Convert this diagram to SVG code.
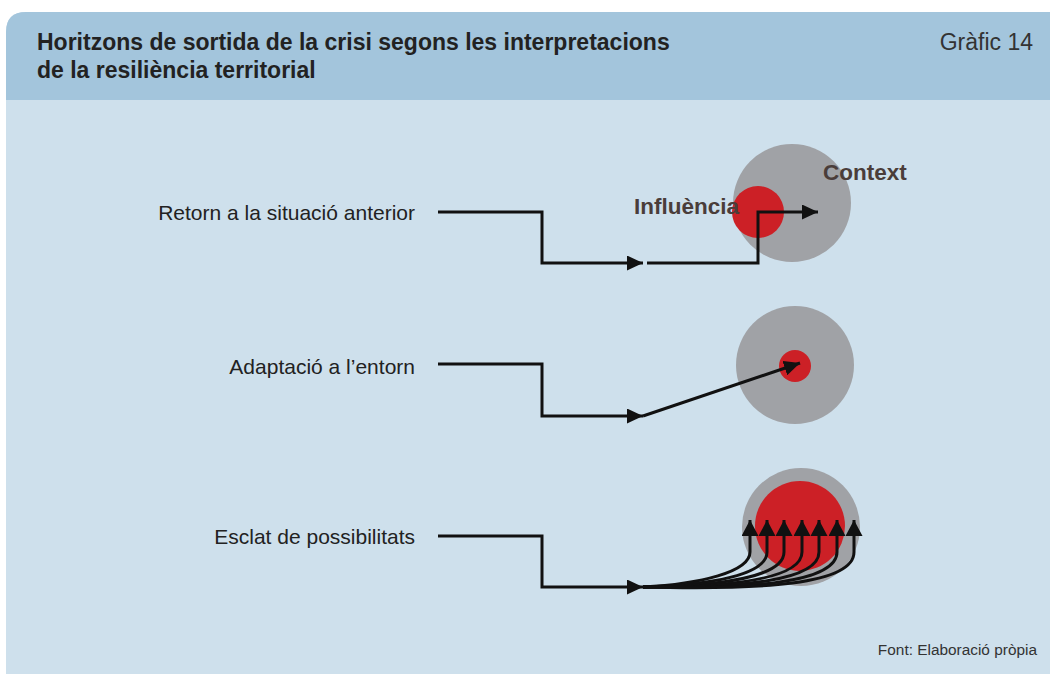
<svg xmlns="http://www.w3.org/2000/svg" width="1050" height="674" viewBox="0 0 1050 674">
<style>
.lbl{font-family:"Liberation Sans",Arial,sans-serif;font-size:21px;fill:#222;text-anchor:end}
.title{font-family:"Liberation Sans",Arial,sans-serif;font-size:23px;font-weight:bold;fill:#222}
.ln{fill:none;stroke:#111;stroke-width:3}
.tag{font-family:"Liberation Sans",Arial,sans-serif;font-size:22.5px;font-weight:bold;fill:#4a3d3a}
</style>
<defs>
<marker id="ah" viewBox="0 0 16 15" refX="16" refY="7.5" markerWidth="16" markerHeight="15" markerUnits="userSpaceOnUse" orient="auto">
<path d="M0,0 L16,7.5 L0,15 Z" fill="#111"/>
</marker>
<marker id="ah2" viewBox="0 0 16 17" refX="16" refY="8.5" markerWidth="16" markerHeight="17" markerUnits="userSpaceOnUse" orient="auto">
<path d="M0,0 L16,8.5 L0,17 Z" fill="#111"/>
</marker>
</defs>
<g id="panel">
<path d="M6,674 V32 Q6,12 26,12 H1050 V674 Z" fill="#cee0ec"/>
<path d="M6,100 V32 Q6,12 26,12 H1050 V100 Z" fill="#a3c5dc"/>
<text class="title" x="37" y="50">Horitzons de sortida de la crisi segons les interpretacions</text>
<text class="title" x="37" y="78">de la resiliència territorial</text>
<text x="1033" y="50" font-family="Liberation Sans,Arial,sans-serif" font-size="23" fill="#333" text-anchor="end">Gràfic 14</text>
<text x="1037" y="655" font-family="Liberation Sans,Arial,sans-serif" font-size="15.4" fill="#333" text-anchor="end">Font: Elaboració pròpia</text>
</g>
<g id="node-retorn">
<circle cx="792" cy="203" r="59" fill="#a0a2a6"/>
<circle cx="758" cy="212" r="26" fill="#cc2026"/>
<text class="tag" x="634" y="214">Influència</text>
<text class="tag" x="823" y="180">Context</text>
<text class="lbl" x="415" y="220">Retorn a la situació anterior</text>
</g>
<g id="node-adaptacio">
<circle cx="795" cy="365" r="59" fill="#a0a2a6"/>
<circle cx="795" cy="366" r="16" fill="#cc2026"/>
<text class="lbl" x="415" y="374">Adaptació a l’entorn</text>
</g>
<g id="node-esclat">
<circle cx="801" cy="527" r="59" fill="#a0a2a6"/>
<circle cx="800" cy="526" r="45" fill="#cc2026"/>
<text class="lbl" x="415" y="544">Esclat de possibilitats</text>
</g>
<g id="connectors">
<path class="ln" d="M438,212 H542 V263 H643" marker-end="url(#ah)"/>
<path class="ln" d="M647,263 H758 V212 H818" marker-end="url(#ah)"/>
<path class="ln" d="M438,364 H542 V416 H643" marker-end="url(#ah)"/>
<path class="ln" d="M643,416 L800,363" marker-end="url(#ah)"/>
<path class="ln" d="M438,536 H542 V587 H643" marker-end="url(#ah)"/>
<g class="fan">
<path class="ln" d="M643,587 C700,584 750,572 750,552 V520" marker-end="url(#ah2)"/>
<path class="ln" d="M643,587 C710,585 767,575 767,552 V520" marker-end="url(#ah2)"/>
<path class="ln" d="M643,587 C720,586 784,577 784,552 V520" marker-end="url(#ah2)"/>
<path class="ln" d="M643,587 C730,587 802,579 802,552 V520" marker-end="url(#ah2)"/>
<path class="ln" d="M643,587 C740,588 819,581 819,552 V520" marker-end="url(#ah2)"/>
<path class="ln" d="M643,587 C750,589 837,583 837,552 V520" marker-end="url(#ah2)"/>
<path class="ln" d="M643,587 C760,590 854,585 854,552 V520" marker-end="url(#ah2)"/>
</g>
</g>
</svg>
